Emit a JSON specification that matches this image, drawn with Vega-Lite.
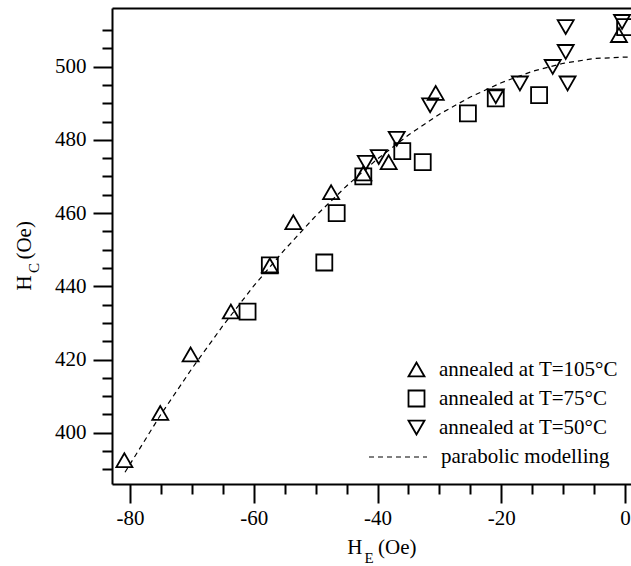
{
  "$schema": "https://vega.github.io/schema/vega-lite/v6.json",
  "width": 519,
  "height": 476,
  "autosize": {"type": "none"},
  "padding": {"left": 112, "top": 8, "right": 0, "bottom": 82},
  "background": "white",
  "config": {
    "view": {"stroke": null},
    "font": "Liberation Serif",
    "axis": {
      "domainColor": "black",
      "domainWidth": 2,
      "tickColor": "black",
      "tickWidth": 2,
      "labelColor": "black",
      "labelFont": "Liberation Serif",
      "labelFontSize": 21,
      "titleColor": "black",
      "titleFont": "Liberation Serif",
      "titleFontSize": 21,
      "titleFontWeight": "normal",
      "grid": false,
      "labelFlush": false,
      "labelOverlap": false
    },
    "legend": {
      "labelFont": "Liberation Serif",
      "labelFontSize": 21,
      "labelColor": "black",
      "labelLimit": 400,
      "padding": 0
    }
  },
  "datasets": {
    "points": [
      {"HE": -80.9, "HC": 392.5, "sample": "annealed at T=105°C"},
      {"HE": -75.1, "HC": 405.4, "sample": "annealed at T=105°C"},
      {"HE": -70.2, "HC": 421.4, "sample": "annealed at T=105°C"},
      {"HE": -63.7, "HC": 433.1, "sample": "annealed at T=105°C"},
      {"HE": -57.4, "HC": 445.7, "sample": "annealed at T=105°C"},
      {"HE": -53.6, "HC": 457.5, "sample": "annealed at T=105°C"},
      {"HE": -47.5, "HC": 465.7, "sample": "annealed at T=105°C"},
      {"HE": -42.3, "HC": 470.8, "sample": "annealed at T=105°C"},
      {"HE": -38.2, "HC": 473.9, "sample": "annealed at T=105°C"},
      {"HE": -30.6, "HC": 492.8, "sample": "annealed at T=105°C"},
      {"HE": -1.0, "HC": 508.6, "sample": "annealed at T=105°C"},
      {"HE": -61.0, "HC": 433.1, "sample": "annealed at T=75°C"},
      {"HE": -57.4, "HC": 445.7, "sample": "annealed at T=75°C"},
      {"HE": -48.6, "HC": 446.5, "sample": "annealed at T=75°C"},
      {"HE": -46.6, "HC": 460.0, "sample": "annealed at T=75°C"},
      {"HE": -42.3, "HC": 470.0, "sample": "annealed at T=75°C"},
      {"HE": -36.0, "HC": 476.9, "sample": "annealed at T=75°C"},
      {"HE": -32.7, "HC": 473.9, "sample": "annealed at T=75°C"},
      {"HE": -25.4, "HC": 487.2, "sample": "annealed at T=75°C"},
      {"HE": -20.9, "HC": 491.3, "sample": "annealed at T=75°C"},
      {"HE": -13.9, "HC": 492.2, "sample": "annealed at T=75°C"},
      {"HE": 0.0, "HC": 510.8, "sample": "annealed at T=75°C"},
      {"HE": -41.9, "HC": 473.7, "sample": "annealed at T=50°C"},
      {"HE": -39.8, "HC": 475.3, "sample": "annealed at T=50°C"},
      {"HE": -36.9, "HC": 480.3, "sample": "annealed at T=50°C"},
      {"HE": -31.5, "HC": 489.4, "sample": "annealed at T=50°C"},
      {"HE": -20.9, "HC": 491.9, "sample": "annealed at T=50°C"},
      {"HE": -17.0, "HC": 495.4, "sample": "annealed at T=50°C"},
      {"HE": -11.7, "HC": 499.9, "sample": "annealed at T=50°C"},
      {"HE": -9.6, "HC": 504.0, "sample": "annealed at T=50°C"},
      {"HE": -9.6, "HC": 510.8, "sample": "annealed at T=50°C"},
      {"HE": -9.3, "HC": 495.4, "sample": "annealed at T=50°C"},
      {"HE": -0.5, "HC": 512.2, "sample": "annealed at T=50°C"}
    ],
    "model": [
      {"HE": -80.8, "HC": 389.2, "series": "parabolic modelling"},
      {"HE": -75, "HC": 405.0, "series": "parabolic modelling"},
      {"HE": -70, "HC": 417.5, "series": "parabolic modelling"},
      {"HE": -65, "HC": 429.2, "series": "parabolic modelling"},
      {"HE": -60, "HC": 440.1, "series": "parabolic modelling"},
      {"HE": -55, "HC": 450.0, "series": "parabolic modelling"},
      {"HE": -50, "HC": 459.2, "series": "parabolic modelling"},
      {"HE": -45, "HC": 467.4, "series": "parabolic modelling"},
      {"HE": -40, "HC": 474.8, "series": "parabolic modelling"},
      {"HE": -35, "HC": 481.3, "series": "parabolic modelling"},
      {"HE": -30, "HC": 487.0, "series": "parabolic modelling"},
      {"HE": -25, "HC": 491.7, "series": "parabolic modelling"},
      {"HE": -20, "HC": 495.6, "series": "parabolic modelling"},
      {"HE": -15, "HC": 498.7, "series": "parabolic modelling"},
      {"HE": -10, "HC": 500.9, "series": "parabolic modelling"},
      {"HE": -5, "HC": 502.2, "series": "parabolic modelling"},
      {"HE": 0, "HC": 502.6, "series": "parabolic modelling"},
      {"HE": 1, "HC": 502.6, "series": "parabolic modelling"}
    ]
  },
  "layer": [
    {
      "data": {"name": "model"},
      "mark": {"type": "line", "color": "black", "strokeWidth": 1.2, "clip": true},
      "encoding": {
        "x": {
          "field": "HE", "type": "quantitative",
          "scale": {"domain": [-82.9, 0.95], "nice": false, "zero": false},
          "axis": {
            "orient": "top", "ticks": false, "labels": false,
            "domainWidth": 2,
            "title": "E", "titleFont": "Liberation Serif", "titleFontSize": 15,
            "titleX": 256.5, "titleY": 554,
            "titleAlign": "center", "titleBaseline": "alphabetic"
          }
        },
        "y": {
          "field": "HC", "type": "quantitative",
          "scale": {"domain": [386, 516], "nice": false, "zero": false},
          "axis": {
            "orient": "right", "ticks": false, "labels": false, "domain": false,
            "title": "C", "titleFont": "Liberation Serif", "titleFontSize": 15,
            "titleAngle": 270,
            "titleX": -592.7, "titleY": 259.5,
            "titleAlign": "center", "titleBaseline": "alphabetic"
          }
        },
        "strokeDash": {
          "field": "series", "type": "nominal",
          "scale": {"range": [[5, 4]]},
          "legend": {
            "orient": "none", "legendX": 256, "legendY": 419,
            "title": null,
            "symbolType": "stroke", "symbolSize": 3364,
            "symbolStrokeColor": "black", "symbolStrokeWidth": 1.2,
            "labelFont": "Liberation Serif",
            "labelOffset": 13
          }
        }
      }
    },
    {
      "data": {"name": "points"},
      "mark": {"type": "point", "filled": false, "stroke": "black", "strokeWidth": 1.8, "size": 256, "opacity": 1},
      "encoding": {
        "x": {
          "field": "HE", "type": "quantitative",
          "scale": {"domain": [-82.9, 0.95], "nice": false, "zero": false},
          "axis": {
            "orient": "bottom",
            "values": [-80, -75, -70, -65, -60, -55, -50, -45, -40, -35, -30, -25, -20, -15, -10, -5, 0],
            "tickSize": {"condition": {"test": "datum.value % 20 === 0", "value": 19}, "value": 10},
            "labelExpr": "datum.value % 20 === 0 ? '' + datum.value : ''",
            "labelFont": "Liberation Serif",
            "labelFontSize": 21,
            "labelPadding": 4,
            "title": "H\u00a0\u00a0 (Oe)",
            "titleFont": "Liberation Serif",
            "titleX": 234.7, "titleY": 69,
            "titleAlign": "left", "titleBaseline": "alphabetic"
          }
        },
        "y": {
          "field": "HC", "type": "quantitative",
          "scale": {"domain": [386, 516], "nice": false, "zero": false},
          "axis": {
            "orient": "left",
            "values": [390, 395, 400, 405, 410, 415, 420, 425, 430, 435, 440, 445, 450, 455, 460, 465, 470, 475, 480, 485, 490, 495, 500, 505, 510],
            "tickSize": {"condition": {"test": "datum.value % 20 === 0", "value": 19}, "value": 10},
            "labelExpr": "datum.value % 20 === 0 ? '' + datum.value : ''",
            "labelFont": "Liberation Serif",
            "labelFontSize": 21,
            "labelPadding": 7,
            "title": "H\u00a0\u00a0 (Oe)",
            "titleFont": "Liberation Serif",
            "titleAngle": 270,
            "titleX": -82, "titleY": 282,
            "titleAlign": "left", "titleBaseline": "alphabetic"
          }
        },
        "shape": {
          "field": "sample", "type": "nominal",
          "scale": {
            "domain": ["annealed at T=105°C", "annealed at T=75°C", "annealed at T=50°C"],
            "range": ["triangle-up", "square", "triangle-down"]
          },
          "legend": {
            "orient": "none", "legendX": 294, "legendY": 351,
            "title": null,
            "symbolSize": 256,
            "symbolStrokeColor": "black", "symbolFillColor": "transparent",
            "symbolStrokeWidth": 1.8,
            "labelFont": "Liberation Serif",
            "labelOffset": 12, "rowPadding": 5
          }
        }
      }
    }
  ],
  "resolve": {"axis": {"x": "independent", "y": "independent"}}
}
